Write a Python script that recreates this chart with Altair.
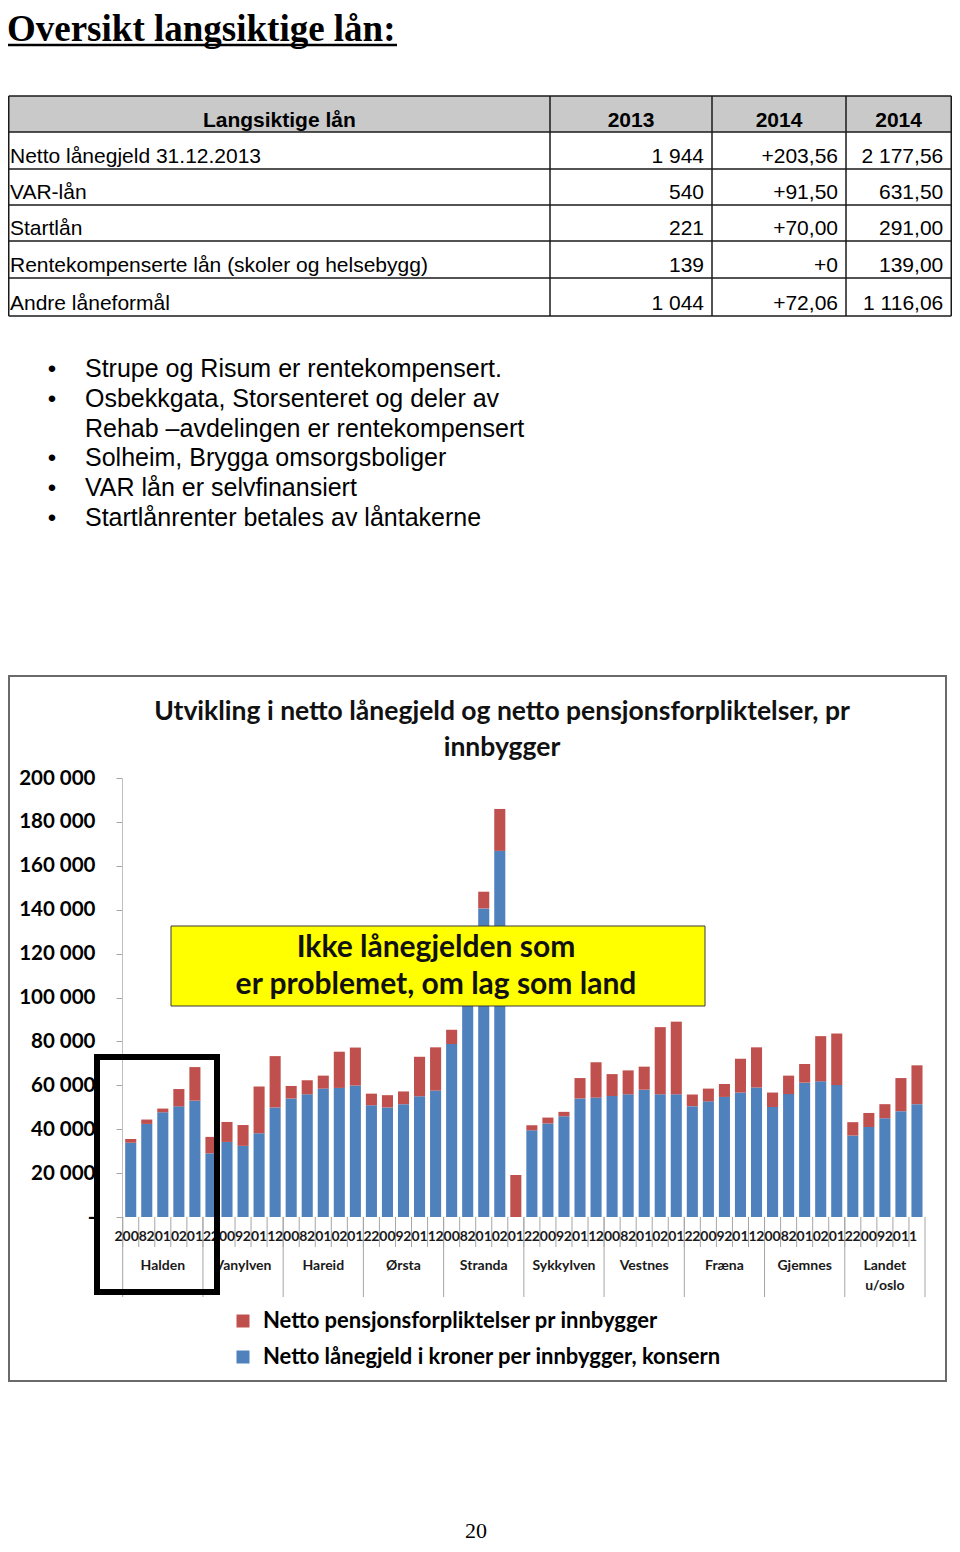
import altair as alt
import pandas as pd

# ---------------- data ----------------
page_title = "Oversikt langsiktige lån:"
table_header = ["Langsiktige lån", "2013", "2014", "2014"]
row_labels = [
    "Netto lånegjeld 31.12.2013",
    "VAR-lån",
    "Startlån",
    "Rentekompenserte lån (skoler og helsebygg)",
    "Andre låneformål",
]
col_2013 = ["1 944", "540", "221", "139", "1 044"]
col_2014_endring = ["+203,56", "+91,50", "+70,00", "+0", "+72,06"]
col_2014_sum = ["2 177,56", "631,50", "291,00", "139,00", "1 116,06"]

bullet_lines = [
    "Strupe og Risum er rentekompensert.",
    "Osbekkgata, Storsenteret og deler av",
    "Rehab –avdelingen er rentekompensert",
    "Solheim, Brygga omsorgsboliger",
    "VAR lån er selvfinansiert",
    "Startlånrenter betales av låntakerne",
]
bullet_marks = [True, True, False, True, True, True]

chart_title = ["Utvikling i netto lånegjeld og netto pensjonsforpliktelser, pr", "innbygger"]
kommuner = ["Halden", "Vanylven", "Hareid", "Ørsta", "Stranda", "Sykkylven",
            "Vestnes", "Fræna", "Gjemnes", "Landet u/oslo"]
kommune_etiketter = ["Halden", "Vanylven", "Hareid", "Ørsta", "Stranda", "Sykkylven",
                     "Vestnes", "Fræna", "Gjemnes", "Landet\nu/oslo"]
aar = ["2008", "2009", "2010", "2011", "2012"]

# Netto lånegjeld i kroner per innbygger, konsern (2008-2012 per kommune)
lanegjeld = [
    [33800, 42400, 47700, 50400, 53000],     # Halden
    [29000, 34200, 32400, 38200, 49900],     # Vanylven
    [54000, 55900, 58500, 58800, 59900],     # Hareid
    [50900, 49900, 51400, 55000, 57600],     # Ørsta
    [78800, 108000, 140600, 166800, 0],      # Stranda
    [39500, 42600, 45900, 54000, 54400],     # Sykkylven
    [55100, 55900, 58000, 55900, 55900],     # Vestnes
    [50500, 52700, 54700, 56700, 59000],     # Fræna
    [50100, 56000, 61200, 61800, 60100],     # Gjemnes
    [37100, 41000, 45000, 48200, 51400],     # Landet u/oslo
]
# Netto pensjonsforpliktelser pr innbygger
pensjon = [
    [1700, 2000, 1700, 7900, 15300],
    [7500, 9100, 9500, 21200, 23400],
    [5700, 6400, 5900, 16500, 17300],
    [5300, 5600, 5800, 18000, 19700],
    [6500, 7000, 7600, 19100, 19100],
    [2300, 2700, 2000, 9300, 16100],
    [10000, 10900, 10500, 30600, 33100],
    [5300, 5800, 5900, 15400, 18300],
    [6600, 8400, 8500, 20600, 23500],
    [6100, 6400, 6400, 15100, 17700],
]
serie_pensjon = "Netto pensjonsforpliktelser pr innbygger"
serie_laan = "Netto lånegjeld i kroner per innbygger, konsern"
y_ticks = [0, 20000, 40000, 60000, 80000, 100000, 120000, 140000, 160000, 180000, 200000]
callout = ["Ikke lånegjelden som", "er problemet, om lag som land"]
page_number = "20"

# ---------------- layout helpers ----------------
OX, OY = 8, 8
W, H = 944, 1536


def px(v):
    return v - OX


def py(v):
    return v - OY


SANS = "Liberation Sans"
SERIF = "Liberation Serif"
CAL = "Lato"

layers = []

# ---- page title ----
layers.append(
    alt.Chart(pd.DataFrame({"t": [page_title]})).mark_text(
        align="left", baseline="alphabetic", font=SERIF, fontSize=37, fontWeight="bold", color="black"
    ).encode(x=alt.value(px(7)), y=alt.value(33), text="t:N")
)
layers.append(
    alt.Chart(pd.DataFrame({"a": [0]})).mark_rule(color="black", strokeWidth=2.5).encode(
        x=alt.value(px(8)), x2=alt.value(px(397)), y=alt.value(37), y2=alt.value(37)
    )
)

# ---- table ----
col_edges = [0.75, px(550), px(712), px(846), W - 0.75]
row_edges = [py(v) for v in (96, 132, 169, 205, 241, 278, 316)]

layers.append(
    alt.Chart(pd.DataFrame({"a": [0]})).mark_rect(fill="#c9c9c9").encode(
        x=alt.value(col_edges[0]), x2=alt.value(col_edges[-1]),
        y=alt.value(row_edges[0]), y2=alt.value(row_edges[1])
    )
)

seg = []
for r in row_edges:
    seg.append(dict(x=col_edges[0], x2=col_edges[-1], y=r, y2=r))
for c in col_edges:
    seg.append(dict(x=c, x2=c, y=row_edges[0], y2=row_edges[-1]))
layers.append(
    alt.Chart(pd.DataFrame(seg)).mark_rule(color="#1a1a1a", strokeWidth=1.5).encode(
        x=alt.X("x:Q", scale=None, axis=None), x2="x2:Q",
        y=alt.Y("y:Q", scale=None, axis=None), y2="y2:Q"
    )
)

hdr = pd.DataFrame({
    "t": table_header,
    "x": [(col_edges[i] + col_edges[i + 1]) / 2 for i in range(4)],
    "y": [row_edges[1] - 5] * 4,
})
layers.append(
    alt.Chart(hdr).mark_text(align="center", baseline="alphabetic", font=SANS, fontSize=21,
                             fontWeight="bold", color="black").encode(
        x=alt.X("x:Q", scale=None, axis=None), y=alt.Y("y:Q", scale=None, axis=None), text="t:N")
)

body_left = pd.DataFrame({
    "t": row_labels,
    "y": [row_edges[i + 2] - 6 for i in range(len(row_labels))],
})
layers.append(
    alt.Chart(body_left).mark_text(align="left", baseline="alphabetic", font=SANS, fontSize=21,
                                   color="black").encode(
        x=alt.value(px(10)), y=alt.Y("y:Q", scale=None, axis=None), text="t:N")
)
num_rows = []
for ci, col in enumerate([col_2013, col_2014_endring, col_2014_sum]):
    for ri, v in enumerate(col):
        num_rows.append(dict(t=v, x=col_edges[ci + 2] - 8, y=row_edges[ri + 2] - 6))
layers.append(
    alt.Chart(pd.DataFrame(num_rows)).mark_text(align="right", baseline="alphabetic", font=SANS,
                                                fontSize=21, color="black").encode(
        x=alt.X("x:Q", scale=None, axis=None), y=alt.Y("y:Q", scale=None, axis=None), text="t:N")
)

# ---- bullets ----
b_y0, b_step = py(377), 29.8
bl = pd.DataFrame({"t": bullet_lines, "y": [b_y0 + i * b_step for i in range(len(bullet_lines))]})
layers.append(
    alt.Chart(bl).mark_text(align="left", baseline="alphabetic", font=SANS, fontSize=25,
                            color="black").encode(
        x=alt.value(px(85)), y=alt.Y("y:Q", scale=None, axis=None), text="t:N")
)
bd = pd.DataFrame({"t": ["•" for m in bullet_marks if m],
                   "y": [b_y0 + i * b_step for i, m in enumerate(bullet_marks) if m]})
layers.append(
    alt.Chart(bd).mark_text(align="center", baseline="alphabetic", font=SANS, fontSize=24,
                            color="black").encode(
        x=alt.value(px(52)), y=alt.Y("y:Q", scale=None, axis=None), text="t:N")
)

# ---- chart frame ----
layers.append(
    alt.Chart(pd.DataFrame({"a": [0]})).mark_rect(filled=False, stroke="#6a6a6a", strokeWidth=2).encode(
        x=alt.value(px(9)), x2=alt.value(px(946)), y=alt.value(py(676)), y2=alt.value(py(1381))
    )
)

# ---- bars ----
keys = [f"{k}|{a}" for k in kommuner for a in aar]
bar_rows = []
for gi, k in enumerate(kommuner):
    for yi, a in enumerate(aar):
        key = f"{k}|{a}"
        bar_rows.append(dict(key=key, serie=serie_laan, verdi=lanegjeld[gi][yi], ord=0))
        bar_rows.append(dict(key=key, serie=serie_pensjon, verdi=pensjon[gi][yi], ord=1))
bars_df = pd.DataFrame(bar_rows)

x_scale = alt.Scale(type="band", domain=keys, range=[px(122.7), px(925)], paddingInner=0, paddingOuter=0)
y_scale = alt.Scale(domain=[0, 200000], range=[py(1217), py(778)], nice=False, zero=True)

x_axis = alt.Axis(
    title=None, orient="bottom", offset=-(H - py(1217)), labels=False,
    ticks=False, tickSize=0, domainColor="#a6a6a6", domainWidth=1, grid=False,
)
y_axis = alt.Axis(
    title=None, orient="left", offset=-px(122), values=y_ticks,
    labelExpr="datum.value == 0 ? '-\u00a0\u00a0\u00a0' : format(datum.value / 1000, 'd') + ' 000'",
    labelFont=CAL, labelFontSize=20.5, labelFontWeight="bold", labelColor="#000000",
    labelPadding=21, tickSize=6, tickColor="#a6a6a6", domainColor="#bfbfbf", grid=False,
)

layers.append(
    alt.Chart(bars_df).mark_bar(width=alt.RelativeBandSize(band=0.69)).encode(
        x=alt.X("key:N", scale=x_scale, axis=x_axis, sort=keys),
        y=alt.Y("verdi:Q", stack="zero", scale=y_scale, axis=y_axis),
        color=alt.Color(
            "serie:N",
            scale=alt.Scale(domain=[serie_pensjon, serie_laan], range=["#c0504d", "#4f81bd"]),
            legend=alt.Legend(
                title=None, orient="none", legendX=px(232), legendY=py(1310), direction="vertical",
                symbolType="square", symbolSize=169, symbolStrokeWidth=0, labelFont=CAL,
                labelFontSize=22, labelFontWeight="bold", labelColor="#000000", rowPadding=14,
                labelOffset=9, padding=0, labelLimit=0,
            ),
        ),
        order=alt.Order("ord:Q", sort="ascending"),
    )
)

# ---- category separators ----
short_df = pd.DataFrame({"key": keys})
layers.append(
    alt.Chart(short_df).mark_rule(color="#a6a6a6", strokeWidth=1).encode(
        x=alt.X("key:N", scale=x_scale, axis=None, bandPosition=0),
        y=alt.value(py(1217)), y2=alt.value(py(1247)))
)
group_df = pd.DataFrame({"key": [f"{k}|{aar[0]}" for k in kommuner]})
layers.append(
    alt.Chart(group_df).mark_rule(color="#a6a6a6", strokeWidth=1).encode(
        x=alt.X("key:N", scale=x_scale, axis=None, bandPosition=0),
        y=alt.value(py(1217)), y2=alt.value(py(1297)))
)
end_df = pd.DataFrame({"key": [keys[-1]]})
layers.append(
    alt.Chart(end_df).mark_rule(color="#a6a6a6", strokeWidth=1).encode(
        x=alt.X("key:N", scale=x_scale, axis=None, bandPosition=1),
        y=alt.value(py(1217)), y2=alt.value(py(1297)))
)

# ---- year labels (every other category, as in the original) ----
yl = pd.DataFrame({"key": keys[::2], "t": [k.split("|")[1] for k in keys[::2]]})
layers.append(
    alt.Chart(yl).mark_text(align="center", baseline="middle", font=CAL, fontSize=14,
                            fontWeight="bold", color="#1a1a1a").encode(
        x=alt.X("key:N", scale=x_scale, axis=None), y=alt.value(py(1237)), text="t:N")
)

# ---- group labels ----
glab = pd.DataFrame({"key": [f"{k}|{aar[2]}" for k in kommuner], "t": kommune_etiketter})
layers.append(
    alt.Chart(glab).mark_text(align="center", baseline="top", lineBreak="\n", lineHeight=20,
                              font=CAL, fontSize=14, fontWeight="bold", color="#1a1a1a").encode(
        x=alt.X("key:N", scale=x_scale, axis=None), y=alt.value(py(1259)), text="t:N")
)

# ---- chart title ----
ct = pd.DataFrame({"t": chart_title, "y": [py(712) + i * 36 for i in range(len(chart_title))]})
layers.append(
    alt.Chart(ct).mark_text(align="center", baseline="middle", font=CAL, fontSize=26.5,
                            fontWeight="bold", color="#111111").encode(
        x=alt.value(px(502)), y=alt.Y("y:Q", scale=None, axis=None), text="t:N")
)

# ---- yellow callout ----
layers.append(
    alt.Chart(pd.DataFrame({"a": [0]})).mark_rect(fill="#ffff00", stroke="#3a3a3a", strokeWidth=1).encode(
        x=alt.value(px(171)), x2=alt.value(px(705)), y=alt.value(py(926)), y2=alt.value(py(1006))
    )
)
co = pd.DataFrame({"t": callout, "y": [py(948) + i * 37 for i in range(len(callout))]})
layers.append(
    alt.Chart(co).mark_text(align="center", baseline="middle", font=CAL, fontSize=30,
                            fontWeight="bold", color="#111111").encode(
        x=alt.value(px(436)), y=alt.Y("y:Q", scale=None, axis=None), text="t:N")
)

# ---- black highlight frame ----
layers.append(
    alt.Chart(pd.DataFrame({"a": [0]})).mark_rect(filled=False, stroke="black", strokeWidth=6).encode(
        x=alt.value(px(97)), x2=alt.value(px(217)), y=alt.value(py(1057)), y2=alt.value(py(1292))
    )
)

# ---- page number ----
layers.append(
    alt.Chart(pd.DataFrame({"t": [page_number]})).mark_text(
        align="center", baseline="middle", font=SERIF, fontSize=22, color="black"
    ).encode(x=alt.value(px(476)), y=alt.value(H - 13), text="t:N")
)

chart = alt.layer(*layers).properties(
    width=W, height=H, padding=0, autosize=alt.AutoSizeParams(type="none")
).configure_view(stroke=None)
chart.save("out.html", embed_options={"renderer": "svg", "actions": False})
